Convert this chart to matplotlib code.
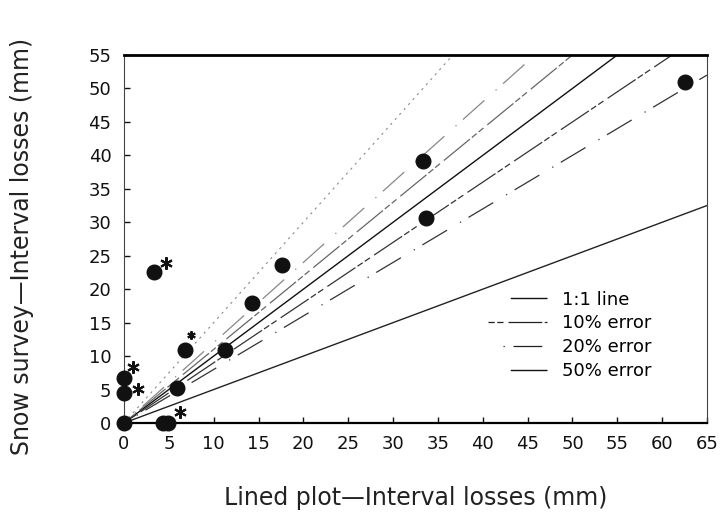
import numpy as np
import matplotlib
matplotlib.use('Agg')
import matplotlib.pyplot as plt
from matplotlib.lines import Line2D
from matplotlib.transforms import offset_copy

# lined plot (x) vs snow survey (y) interval losses, mm
lined_mm = [0, 0, 0, 4.3, 4.9, 3.4, 5.9, 6.8, 11.3, 14.3, 17.6, 33.3, 33.7, 62.6]
survey_mm = [0, 4.5, 6.7, 0, 0, 22.5, 5.2, 10.9, 10.9, 17.9, 23.6, 39.2, 30.6, 50.9]
# points flagged with an asterisk
flagged = [False, True, True, False, True, True, False, True, False, False, False, False, False, False]

# reference lines: slope factors (1:1, +/-10 %, +/-20 %, +/-50 %)
line_factors = [1.0, 1.1, 0.9, 1.2, 0.8, 1.5, 0.5]
legend_labels = ['1:1 line', '10% error', '20% error', '50% error']

x_ticks = list(range(0, 70, 5))
y_ticks = list(range(0, 60, 5))
x_max, y_max = 65, 55

plt.rcParams['font.family'] = ['DejaVu Sans']

# line styles for each factor
style_1to1 = dict(color='#111111', lw=1.0, ls='-')
style_10 = dict(lw=0.9, ls=(0, (5, 2, 5, 4, 27, 2)))
style_20 = dict(lw=0.9, ls=(31, (1, 7, 23, 12)))
styles = {
    1.0: style_1to1,
    1.1: dict(style_10, color='#666666'),
    0.9: dict(style_10, color='#333333'),
    1.2: dict(style_20, color='#888888'),
    0.8: dict(style_20, color='#333333'),
    1.5: dict(color='#8a8a8a', lw=0.8, ls=(0, (2, 4))),
    0.5: dict(color='#222222', lw=1.0, ls='-'),
}
# asterisk offsets (points) for the flagged points, in order
star_offsets = [(10, 3), (6.5, 8), (9, 8), (8, 7), (4.5, 11)]
star_sizes = [9, 9, 9, 9, 6]

fig = plt.figure(figsize=(7.22, 5.18), dpi=100)
ax = fig.add_axes([0.1717, 0.1834, 0.8075, 0.7104])

xl = np.array([0, x_max])
for f in line_factors:
    ax.plot(xl, f * xl, **styles[f], zorder=2)

ax.plot(lined_mm, survey_mm, 'o', color='#111111', ms=10.5, clip_on=False, zorder=4)
fx = [x for x, fl in zip(lined_mm, flagged) if fl]
fy = [y for y, fl in zip(survey_mm, flagged) if fl]
for x, y, (dx, dy), s in zip(fx, fy, star_offsets, star_sizes):
    tr = offset_copy(ax.transData, fig=fig, x=dx, y=dy, units='points')
    ax.plot([x], [y], marker=(6, 2, 0), ms=s, mew=1.5, color='#111111',
            transform=tr, clip_on=False, zorder=5)

ax.set_xlim(0, x_max)
ax.set_ylim(0, y_max)
ax.set_xticks(x_ticks)
ax.set_yticks(y_ticks)
ax.tick_params(direction='in', length=4, width=1, labelsize=13, colors='#111111')
ax.tick_params(axis='x', pad=9)
ax.tick_params(axis='y', pad=9)

ax.spines['top'].set_linewidth(2.0)
ax.spines['bottom'].set_linewidth(1.6)
ax.spines['left'].set_linewidth(0.8)
ax.spines['left'].set_linestyle((0, (6, 1)))
ax.spines['left'].set_color('#444444')
ax.spines['right'].set_linewidth(0.8)
ax.spines['right'].set_linestyle((0, (3, 1)))
ax.spines['right'].set_color('#444444')

ax.set_xlabel('Lined plot\u2014Interval losses (mm)', fontsize=17, color='#222222')
ax.set_ylabel('Snow survey\u2014Interval losses (mm)', fontsize=17, color='#222222')
ax.xaxis.label.set_va('center')
ax.yaxis.label.set_va('center')
ax.xaxis.set_label_coords(0.5, -0.205)
ax.yaxis.set_label_coords(-0.175, 0.48)

handles = [
    Line2D([], [], color='#111111', lw=1.0, ls=(27, (27, 16))),
    Line2D([], [], color='#222222', **style_10),
    Line2D([], [], color='#222222', **style_20),
    Line2D([], [], color='#111111', lw=1.0, ls=(27, (27, 16))),
]
ax.legend(handles, legend_labels, loc='upper left', bbox_to_anchor=(0.624, 0.36),
          frameon=False, fontsize=13, handlelength=3.3, handletextpad=0.8,
          labelspacing=0.33, borderpad=0, borderaxespad=0)

fig.savefig('out.png', dpi=100)
